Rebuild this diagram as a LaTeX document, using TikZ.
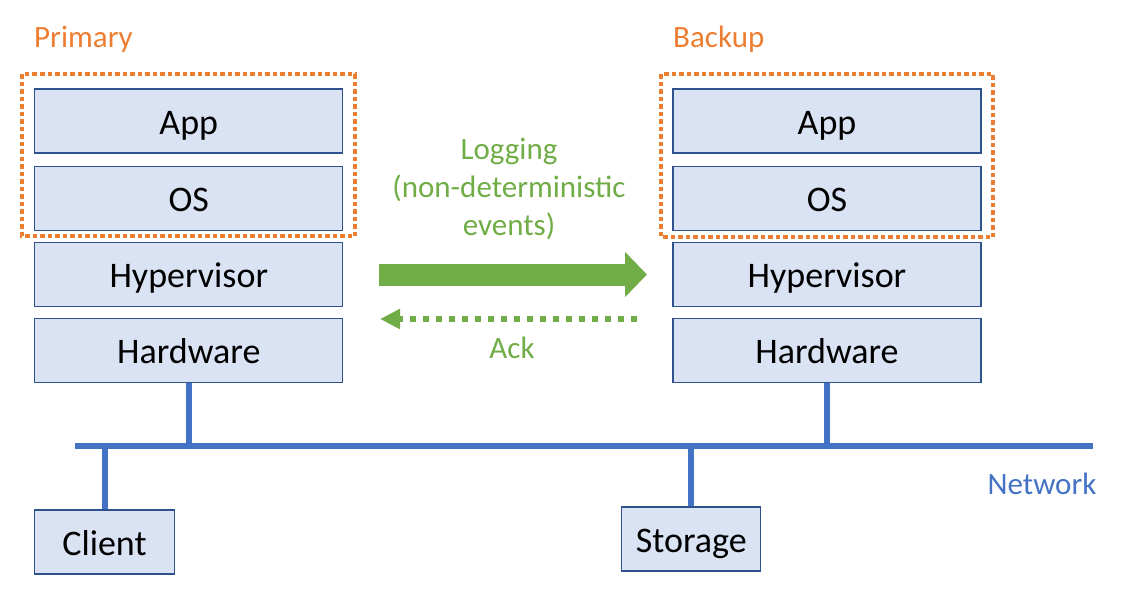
\documentclass[tikz,border=0pt]{standalone}
\usepackage{fontspec}
\setmainfont{Carlito}
\usetikzlibrary{arrows.meta}
\definecolor{boxfill}{HTML}{DAE3F3}
\definecolor{boxline}{HTML}{2F528F}
\definecolor{netblue}{HTML}{4472C4}
\definecolor{orng}{HTML}{ED7D31}
\definecolor{grn}{HTML}{70AD47}
\tikzset{
  layer/.style={draw=boxline, line width=1.1pt, fill=boxfill, minimum width=308pt, minimum height=64pt,
    inner sep=0pt, font=\fontsize{36}{40}\selectfont, text height=26pt, text depth=0pt},
  smallbox/.style={layer, minimum width=139pt},
  group/.style={draw=orng, line width=4.5pt, dash pattern=on 4.5pt off 3pt},
  net/.style={draw=netblue, line width=6pt},
  lbl/.style={inner sep=0pt, font=\fontsize{31}{38}\selectfont},
}
\begin{document}
\begin{tikzpicture}[x=1pt, y=-1pt]
\useasboundingbox (0,0) rectangle (1129,603);
% left stack
\node[layer] (appL) at (188.8,121) {App};
\node[layer] (osL) at (188.8,198.3) {OS};
\node[layer] (hvL) at (188.8,274.7) {Hypervisor};
\node[layer] (hwL) at (188.8,350.7) {Hardware};
% right stack
\node[layer] (appR) at (827,121) {App};
\node[layer] (osR) at (827,198.3) {OS};
\node[layer] (hvR) at (827,274.7) {Hypervisor};
\node[layer] (hwR) at (827,350.7) {Hardware};
% groups
\draw[group] (22,74) rectangle (355,236);
\draw[group] (661,74) rectangle (993,237);
\node[lbl, text=orng, anchor=base west] (prim) at (34,47) {Primary};
\node[lbl, text=orng, anchor=base west] (back) at (673,47) {Backup};
% bottom boxes
\node[smallbox, minimum width=140pt] (client) at (104.5,542) {Client};
\node[smallbox] (storage) at (691.3,539) {Storage};
% network
\coordinate (netL) at (75,446);
\coordinate (netR) at (1093,446);
\draw[net] (netL) -- (netR);
\draw[net] (hwL.south) -- (hwL.south |- netL);
\draw[net] (hwR.south) -- (hwR.south |- netL);
\draw[net] (client.north) -- (client.north |- netL);
\draw[net] (storage.north) -- (storage.north |- netL);
\node[lbl, text=netblue, anchor=base] (netlbl) at (1042,494) {Network};
% logging arrows
\coordinate (logS) at (379,274.5);
\coordinate (logE) at (647,274.5);
\draw[grn, line width=22pt, -{Triangle[length=22pt, width=44pt]}] (logS) -- (logE);
\node[lbl, text=grn, align=center] (logtxt) at (509,189) {Logging\\(non-deterministic\\events)};
\coordinate (ackS) at (637,319);
\coordinate (ackE) at (380,319);
\draw[grn, line width=6pt, dash pattern=on 6pt off 7pt, -{Triangle[length=20pt, width=19pt]}] (ackS) -- (ackE);
\node[lbl, text=grn] (acktxt) at (512,348) {Ack};
\end{tikzpicture}
\end{document}
